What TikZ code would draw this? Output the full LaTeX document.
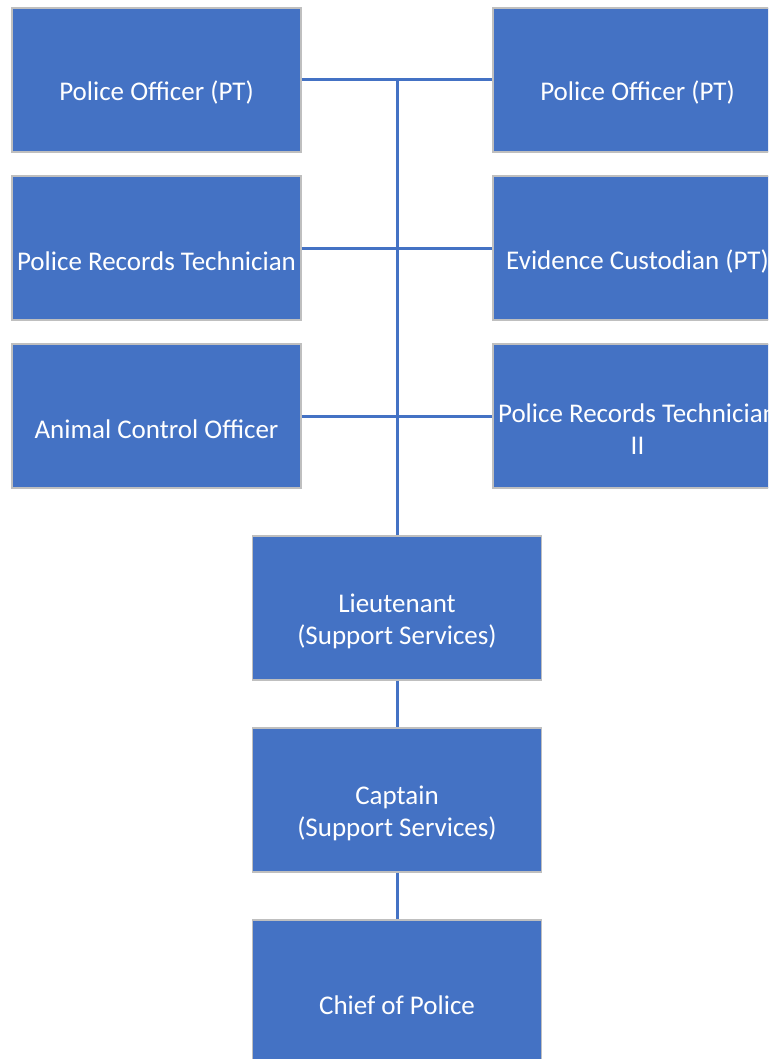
\documentclass[tikz,border=0pt]{standalone}
\usepackage{fontspec}
\setmainfont{Carlito}
\usetikzlibrary{positioning}
\definecolor{boxblue}{HTML}{4472C4}
\definecolor{boxrim}{HTML}{BFBFBF}
\tikzset{
	orgtext/.style={text=white, align=center, inner sep=0pt, yshift=-13pt,
		font=\fontsize{27}{32}\selectfont},
	orgbox/.style={draw=boxrim, line width=1.2pt, fill=boxblue,
		minimum width=289pt, minimum height=144pt, inner sep=0pt,
		label={[orgtext]center:#1}},
	orgline/.style={draw=boxblue, line width=3pt}
}

\begin{document}
\begin{tikzpicture}[x=1pt, y=-1pt]
		%%%%% START %%%%%
		\useasboundingbox (0, 0) rectangle (768, 1059);
		\clip (0, 0) rectangle (768, 1059);
		
		\node[orgbox={Police Officer (PT)}] (officerL) at (156.5, 80) {};
		\node[orgbox={Police Records Technician}] (recordsL) at (156.5, 248) {};
		\node[orgbox={Animal Control Officer}] (animal) at (156.5, 416) {};
		
		\node[orgbox={Police Officer (PT)}] (officerR) at (637.5, 80) {};
		\node[orgbox={Evidence Custodian (PT)}] (evidence) at (637.5, 248) {};
		\node[orgbox={Police Records Technician\\II}] (recordsR) at (637.5, 416) {};
		
		\node[orgbox={Lieutenant\\(Support Services)}] (lieut) at (397, 608) {};
		\node[orgbox={Captain\\(Support Services)}] (captain) at (397, 800) {};
		\node[orgbox={Chief of Police}] (chief) at (397, 992) {};
		
		\coordinate (top) at (397, 80);
		
		\draw[orgline] (officerL.east) -- (officerR.west);
		\draw[orgline] (recordsL.east) -- (evidence.west);
		\draw[orgline] (animal.east) -- (recordsR.west);
		
		\draw[orgline] (top) -- (lieut.north);
		\draw[orgline] (lieut.south) -- (captain.north);
		\draw[orgline] (captain.south) -- (chief.north);
		
		%%%%% END %%%%%
	\end{tikzpicture}
\end{document}
